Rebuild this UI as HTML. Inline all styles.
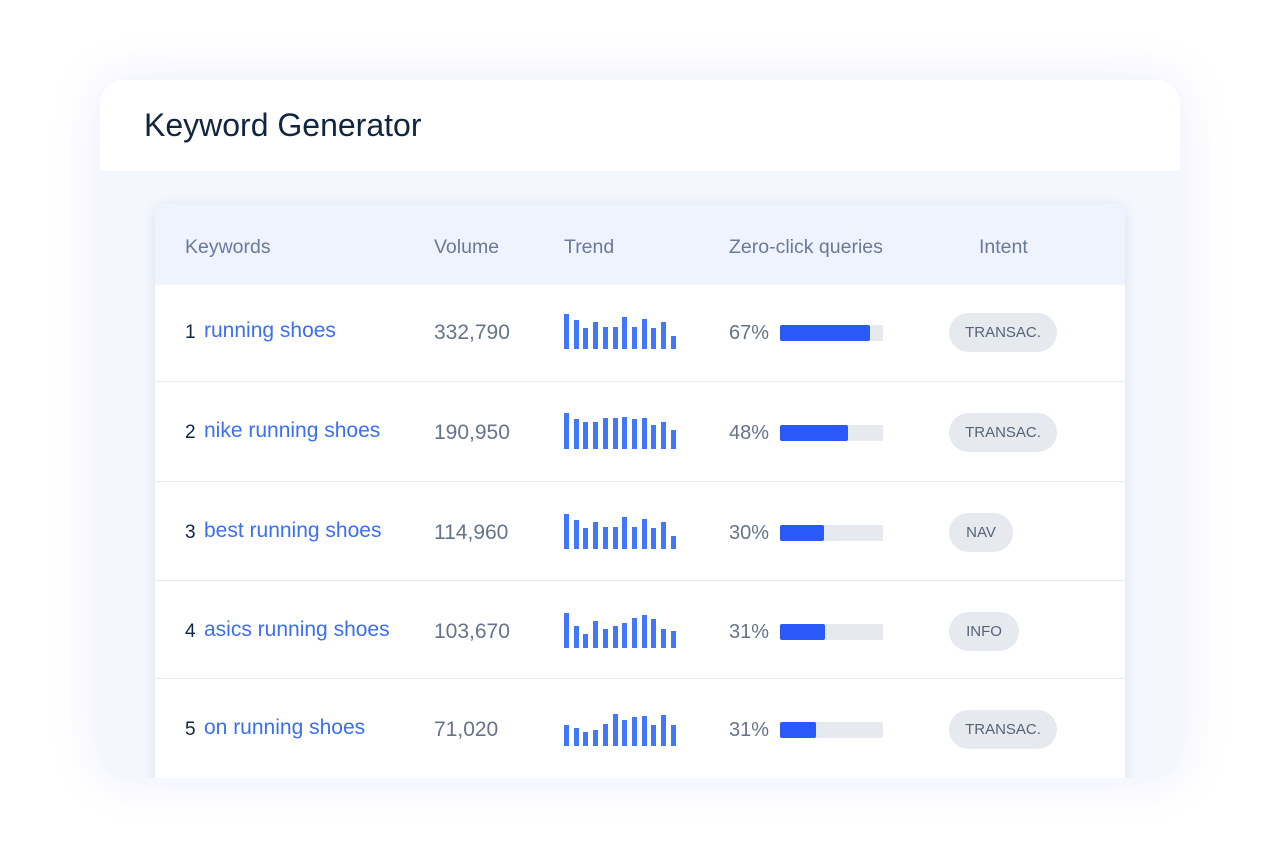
<!DOCTYPE html>
<html><head><meta charset="utf-8"><style>
*{margin:0;padding:0;box-sizing:border-box}
body{width:1280px;height:856px;background:#fff;position:relative;overflow:hidden;font-family:"Liberation Sans",sans-serif}
.card{position:absolute;left:100px;top:80px;width:1080px;height:698px;border-radius:24px;background:#f4f7fd;overflow:hidden;box-shadow:0 0 50px rgba(90,110,230,0.13)}
.head{position:absolute;left:0;top:0;width:1080px;height:91px;background:#fff}
.title{position:absolute;left:44px;top:27px;font-size:32px;color:#0f2540}
.tbl{position:absolute;left:55px;top:124px;width:970px;height:600px;background:#fff;box-shadow:0 2px 14px rgba(30,40,80,0.10);border-radius:10px 10px 0 0;overflow:hidden}
.th{position:absolute;left:0;top:0;width:970px;height:81px;background:#eef3fe}
.t{position:absolute;white-space:nowrap}
.hd{font-size:19.5px;color:#6b7a99;top:32px}
.sep{position:absolute;left:0;width:970px;height:1px;background:#e6eaf5}
.num{font-size:19px;color:#0f2540}
.kw{font-size:21px;color:#3a6ff5}
.vol{font-size:21px;color:#66738a}
.pct{font-size:20px;color:#66738a}
.bar{position:absolute;width:5px;background:#4277fb}
.pb{position:absolute;width:103px;height:16px;background:#e6e9ee;border-radius:2px}
.pf{position:absolute;left:0;top:0;height:16px;background:#2b59f7;border-radius:2px}
.pill{position:absolute;height:39px;border-radius:20px;background:#e6e9ee;font-size:15px;color:#55637a;line-height:39px;text-align:center}
</style></head><body>
<div class="card">
<div class="head"><div class="title">Keyword Generator</div></div>
<div class="tbl">
<div class="th"></div>
<div class="t hd" style="left:30px">Keywords</div>
<div class="t hd" style="left:279px">Volume</div>
<div class="t hd" style="left:409px">Trend</div>
<div class="t hd" style="left:574px">Zero-click queries</div>
<div class="t hd" style="left:824px">Intent</div>
<div id="rows"></div>
</div>
</div>
<script>
var rows=[
["1","running shoes","332,790",67,90,"TRANSAC.",108,[35,29,21,27,22,22,32,22,30,21,27,13]],
["2","nike running shoes","190,950",48,68,"TRANSAC.",108,[36,30,27,27,31,31,32,30,31,24,27,19]],
["3","best running shoes","114,960",30,44,"NAV",64,[35,29,21,27,22,22,32,22,30,21,27,13]],
["4","asics running shoes","103,670",31,45,"INFO",70,[35,22,14,27,19,22,25,30,33,29,19,17]],
["5","on running shoes","71,020",31,36,"TRANSAC.",108,[21,18,14,16,22,32,26,29,30,21,31,21]]];
var cy=[128,228,328,427,525],h='';
rows.forEach(function(r,i){var c=cy[i];
if(i>0)h+='<div class="sep" style="top:'+(c-51)+'px"></div>';
h+='<div class="t num" style="left:30px;top:'+(c-10)+'px">'+r[0]+'</div>';
h+='<div class="t kw" style="left:49px;top:'+(c-13)+'px">'+r[1]+'</div>';
h+='<div class="t vol" style="left:279px;top:'+(c-11)+'px">'+r[2]+'</div>';
var bot=c+17;
r[7].forEach(function(v,j){h+='<div class="bar" style="left:'+(409+j*9.7)+'px;top:'+(bot-v)+'px;height:'+v+'px"></div>'});
h+='<div class="t pct" style="left:574px;top:'+(c-10)+'px">'+r[3]+'%</div>';
h+='<div class="pb" style="left:625px;top:'+(c-7)+'px"><div class="pf" style="width:'+r[4]+'px"></div></div>';
h+='<div class="pill" style="left:794px;top:'+(c-19)+'px;width:'+r[6]+'px">'+r[5]+'</div>';
});
document.getElementById('rows').innerHTML=h;
</script>
</body></html>
